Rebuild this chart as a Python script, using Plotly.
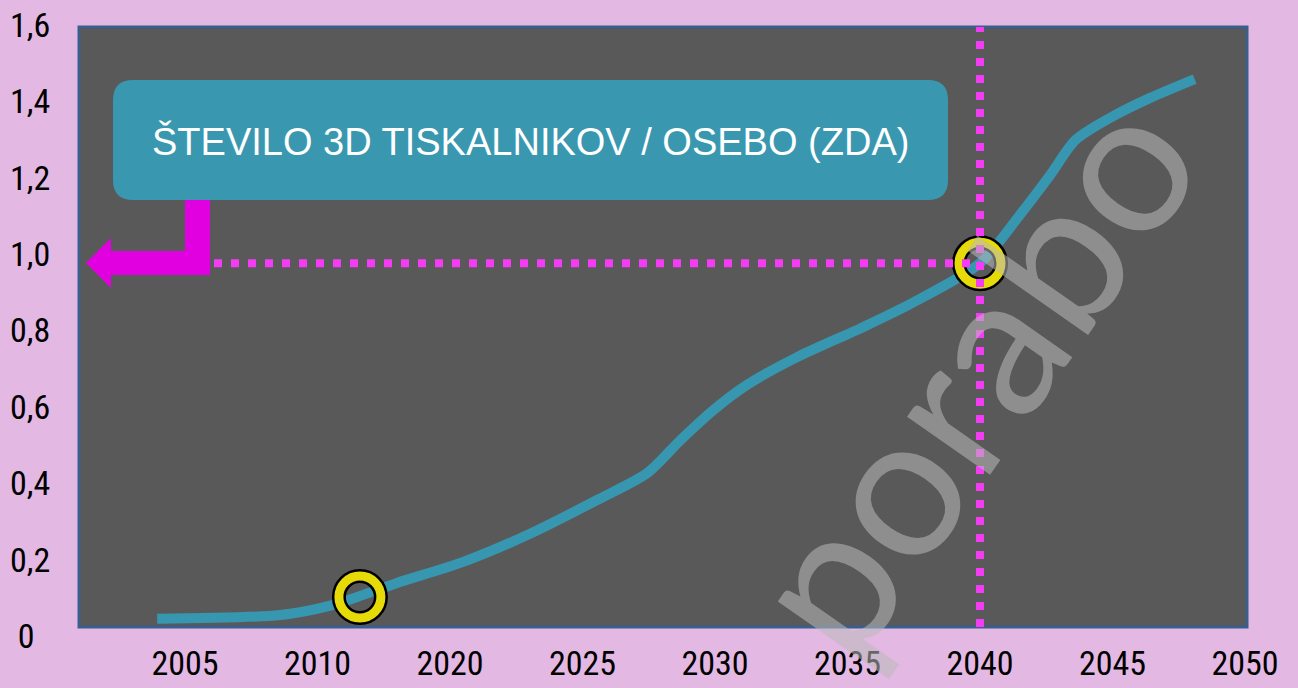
import plotly.graph_objects as go

# ---------------- data ----------------
x_labels = ["2005", "2010", "2020", "2025", "2030", "2035", "2040", "2045", "2050"]
x_positions = [0, 1, 2, 3, 4, 5, 6, 7, 8]

y_tick_vals = [0, 0.2, 0.4, 0.6, 0.8, 1.0, 1.2, 1.4, 1.6]
y_tick_text = ["0\u00a0\u00a0", "0,2", "0,4", "0,6", "0,8", "1,0", "1,2", "1,4", "1,6"]

curve_x = [-0.21, 0.72, 1.09, 1.34, 1.60, 2.10, 2.60, 3.11, 3.49, 3.74, 3.99, 4.24,
           4.62, 5.12, 5.49, 6.00, 6.30, 6.53, 6.72, 6.98, 7.28, 7.62]
curve_y = [0.045, 0.055, 0.079, 0.107, 0.139, 0.194, 0.267, 0.356, 0.427, 0.513, 0.592, 0.657,
           0.730, 0.809, 0.872, 0.976, 1.102, 1.207, 1.298, 1.356, 1.408, 1.458]

highlight_x = [1.32, 6.00]
highlight_y = [0.102, 0.976]

title_text = "ŠTEVILO 3D TISKALNIKOV / OSEBO (ZDA)"
watermark_text = "porabo"

# ---------------- geometry helpers ----------------
W, H = 1298, 688
ML, MR, MT, MB = 79, 51, 20, 46
PLOT_L, PLOT_R = ML, W - MR
PLOT_T, PLOT_B = MT, H - MB
X_RANGE = [-0.8, 8.015]
Y_ZERO_PX, Y_UNIT_PX = 636, 382.0
Y_RANGE = [(Y_ZERO_PX - PLOT_B) / Y_UNIT_PX, (Y_ZERO_PX - PLOT_T) / Y_UNIT_PX]
FRAME_TOP_PX, FRAME_BOT_PX = 27, 627


def pxp(px):
    return (px - PLOT_L) / (PLOT_R - PLOT_L)


def pyp(py):
    return (PLOT_B - py) / (PLOT_B - PLOT_T)


def yval(py):
    return (Y_ZERO_PX - py) / Y_UNIT_PX


def xval(px):
    return X_RANGE[0] + (px - PLOT_L) / (PLOT_R - PLOT_L) * (X_RANGE[1] - X_RANGE[0])


BG = "#e3b8e3"
PLOT_BG = "#595959"
FRAME = "#3b5f8c"
LINE = "#3897b0"
MAGENTA_DOT = "#f53cf5"
MAGENTA = "#e000e0"
YELLOW = "#e6da08"
FONT = "Liberation Sans Narrow, Roboto Condensed, Arial Narrow, Liberation Sans, sans-serif"

fig = go.Figure()

fig.add_trace(go.Scatter(
    x=curve_x, y=curve_y, mode="lines",
    line=dict(color=LINE, width=10, shape="spline", smoothing=0.8),
    hoverinfo="skip", showlegend=False))

fig.add_trace(go.Scatter(
    x=highlight_x, y=highlight_y, mode="markers",
    marker=dict(symbol="circle-open", size=42, color="black", line=dict(width=14, color="black")),
    hoverinfo="skip", showlegend=False))
fig.add_trace(go.Scatter(
    x=highlight_x, y=highlight_y, mode="markers",
    marker=dict(symbol="circle-open", size=42, color=YELLOW, line=dict(width=9, color=YELLOW)),
    hoverinfo="skip", showlegend=False))

shapes = []
# plot frame
shapes.append(dict(type="rect", xref="paper", yref="y", x0=0, x1=1,
                   y0=yval(FRAME_BOT_PX), y1=yval(FRAME_TOP_PX),
                   fillcolor=PLOT_BG, line=dict(color=FRAME, width=3), layer="below"))
# dotted guides
shapes.append(dict(type="line", xref="x", yref="y", x0=highlight_x[1], x1=highlight_x[1],
                   y0=yval(FRAME_BOT_PX), y1=yval(FRAME_TOP_PX),
                   line=dict(color=MAGENTA_DOT, width=8, dash="8px,9px"), layer="above"))
shapes.append(dict(type="line", xref="x", yref="y", x0=xval(214), x1=highlight_x[1],
                   y0=highlight_y[1], y1=highlight_y[1],
                   line=dict(color=MAGENTA_DOT, width=8, dash="8px,9px"), layer="above"))

# callout box (rounded)
bx0, bx1, by0, by1, r = 113, 948, 80, 200, 20


def P(x, y):
    return f"{pxp(x):.5f},{pyp(y):.5f}"


box_path = (f"M {P(bx0 + r, by0)} L {P(bx1 - r, by0)} Q {P(bx1, by0)} {P(bx1, by0 + r)} "
            f"L {P(bx1, by1 - r)} Q {P(bx1, by1)} {P(bx1 - r, by1)} "
            f"L {P(bx0 + r, by1)} Q {P(bx0, by1)} {P(bx0, by1 - r)} "
            f"L {P(bx0, by0 + r)} Q {P(bx0, by0)} {P(bx0 + r, by0)} Z")
shapes.append(dict(type="path", xref="paper", yref="paper", path=box_path,
                   fillcolor="#3997b0", line=dict(width=0), layer="above"))

# L-shaped arrow
arrow_pts = [(185, 200), (210, 200), (210, 275), (111, 275), (111, 288), (86, 263),
             (111, 238), (111, 251), (185, 251)]
arrow_path = "M " + " L ".join(P(a, b) for a, b in arrow_pts) + " Z"
shapes.append(dict(type="path", xref="paper", yref="paper", path=arrow_path,
                   fillcolor=MAGENTA, line=dict(width=0), layer="above"))

annotations = [
    dict(x=pxp((bx0 + bx1) / 2), y=pyp((by0 + by1) / 2 + 1), xref="paper", yref="paper",
         text=title_text, showarrow=False, xanchor="center", yanchor="middle",
         font=dict(family="Liberation Sans, Arial, sans-serif", size=38, color="white")),
    dict(x=pxp(968), y=pyp(372), xref="paper", yref="paper", text=watermark_text,
         showarrow=False, textangle=-55, xanchor="center", yanchor="middle",
         font=dict(family="Lato, Open Sans, sans-serif", size=200, color="rgba(185,185,185,0.55)")),
]

fig.update_layout(
    template="none",
    width=W, height=H, autosize=False,
    margin=dict(l=ML, r=MR, t=MT, b=MB, pad=0, autoexpand=False),
    paper_bgcolor=BG, plot_bgcolor="rgba(0,0,0,0)",
    showlegend=False,
    shapes=shapes, annotations=annotations,
    xaxis=dict(range=X_RANGE, tickvals=x_positions, ticktext=x_labels, automargin=False,
               showgrid=False, zeroline=False, showline=False,
               ticks="", ticklabelstandoff=-2,
               tickfont=dict(family=FONT, size=34, color="black")),
    yaxis=dict(range=Y_RANGE, tickvals=y_tick_vals, ticktext=y_tick_text, automargin=False,
               showgrid=False, zeroline=False, showline=False,
               ticks="outside", ticklen=21, tickcolor="rgba(0,0,0,0)",
               tickfont=dict(family=FONT, size=34, color="black")),
)

fig.write_html("out.html", config={"displayModeBar": False},
               post_script="document.body.style.margin='0';document.body.style.overflow='hidden';")
